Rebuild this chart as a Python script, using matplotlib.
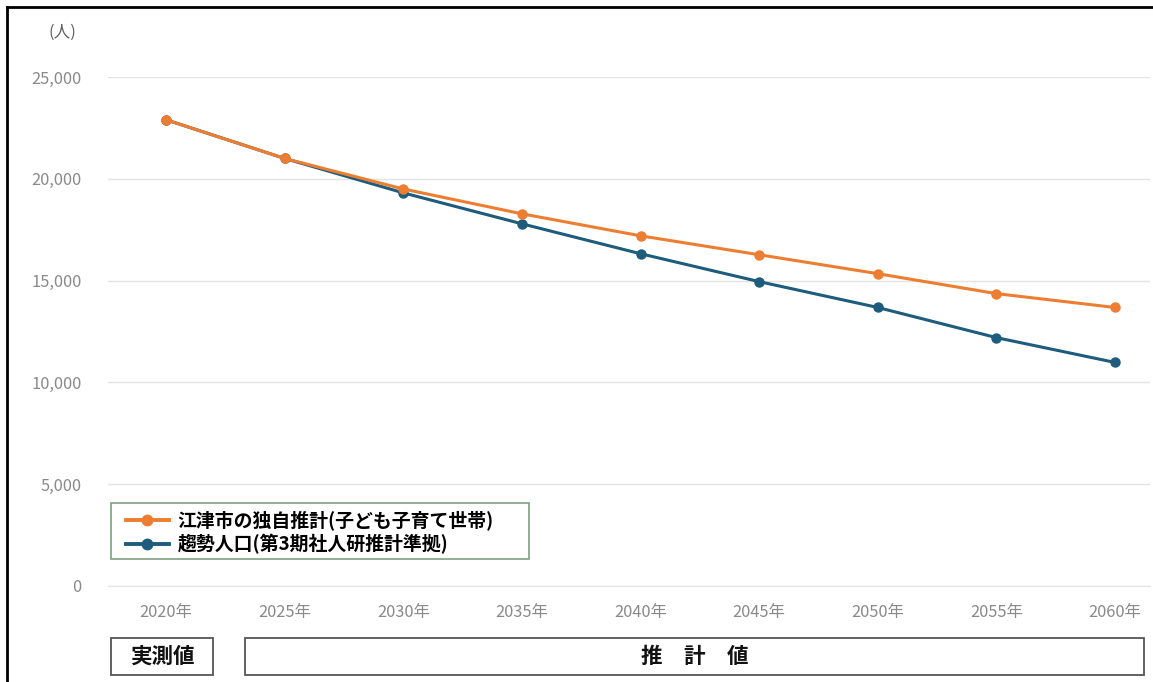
import numpy as np
import matplotlib
matplotlib.use("Agg")
from matplotlib import pyplot as plt
from matplotlib.patches import Rectangle
from matplotlib.lines import Line2D

plt.rcParams['font.family'] = ['Noto Sans CJK JP', 'DejaVu Sans']

# data
years = ['2020年', '2025年', '2030年', '2035年', '2040年', '2045年', '2050年', '2055年', '2060年']
own_estimate = [22900, 21000, 19500, 18280, 17200, 16270, 15340, 14360, 13680]
trend_pop = [22900, 21000, 19310, 17790, 16320, 14950, 13680, 12200, 10980]
yticks = [0, 5000, 10000, 15000, 20000, 25000]
series_names = ['江津市の独自推計(子ども子育て世帯)', '趨勢人口(第3期社人研推計準拠)']

W, H = 1153, 682
fig = plt.figure(figsize=(W / 100, H / 100), dpi=100)

def fx(px):
    return px / W

def fy(py):
    return 1 - py / H

# main axes
ax = fig.add_axes([fx(108), fy(586), fx(1150) - fx(108), fy(77) - fy(586)])
x = np.arange(len(years))
ax.plot(x, trend_pop, color='#1d5c7c', lw=2.2, marker='o', ms=6.5, zorder=3)
ax.plot(x, own_estimate, color='#ed7d31', lw=2.2, marker='o', ms=6.5, zorder=4)

ax.set_xlim(-0.489, 8.295)
ax.set_ylim(0, 25000)
ax.set_yticks(yticks)
ax.set_yticklabels([f'{v:,}' for v in yticks])
ax.set_xticks(x)
ax.set_xticklabels(years)
ax.tick_params(axis='both', length=0, colors='#8a8a8a', labelsize=11.8)
ax.tick_params(axis='y', pad=19)
ax.tick_params(axis='x', pad=13)
ax.grid(axis='y', color='#e3e3e3', lw=1)
ax.set_axisbelow(True)
for s in ['left', 'right', 'top']:
    ax.spines[s].set_visible(False)
ax.spines['bottom'].set_color('#e3e3e3')

fig.text(fx(62), fy(32), '(人)', ha='center', va='center', fontsize=12, color='#606060')

# legend (frame drawn separately to get the wide right margin)
handles = [Line2D([], [], color='#ed7d31', lw=2.8, marker='o', ms=7.5),
           Line2D([], [], color='#1d5c7c', lw=2.8, marker='o', ms=7.5)]
leg = fig.legend(handles, series_names, loc='lower left',
                 bbox_to_anchor=(fx(120), fy(560)), bbox_transform=fig.transFigure,
                 borderaxespad=0, frameon=False,
                 handlelength=2.3, handletextpad=0.45, labelspacing=0.2,
                 borderpad=0.3, prop={'weight': 'bold', 'size': 13.6})
fig.patches.append(Rectangle((fx(111), fy(559)), fx(529) - fx(111), fy(503) - fy(559),
                             transform=fig.transFigure, facecolor='white',
                             edgecolor='#7f9f82', lw=1.2, zorder=5))
leg.set_zorder(6)

# period boxes
for (x0, x1, label) in [(111, 213, '実測値'), (245, 1144, '推　計　値')]:
    r = Rectangle((fx(x0), fy(675)), fx(x1) - fx(x0), fy(638) - fy(675),
                  transform=fig.transFigure, fill=False, edgecolor='#555555', lw=1.3)
    fig.patches.append(r)
    fig.text(fx((x0 + x1) / 2), fy(656.5), label, ha='center', va='center',
             fontsize=15.5, fontweight='bold', color='#111111')

# outer frame (top and left)
fig.add_artist(Line2D([fx(7), 1], [fy(7), fy(7)], transform=fig.transFigure, color='black', lw=2))
fig.add_artist(Line2D([fx(7), fx(7)], [fy(7), 0], transform=fig.transFigure, color='black', lw=2))

fig.savefig('out.png', dpi=100)
